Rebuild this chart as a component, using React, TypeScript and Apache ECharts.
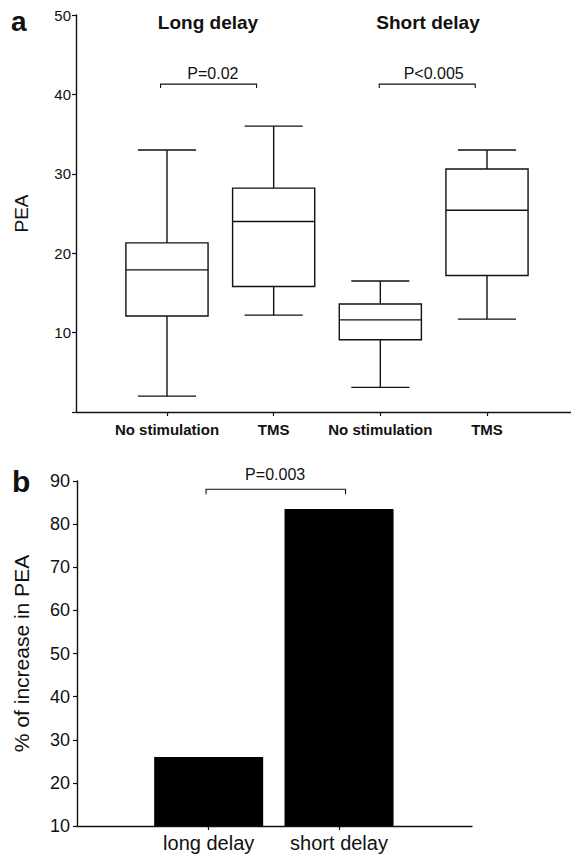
import React, { useEffect, useRef } from 'react';
import * as echarts from 'echarts';

const FONT = '"Liberation Sans", Arial, Helvetica, sans-serif';

// Panel a: box plots (PEA)
const boxCategories = ['No stimulation', 'TMS', 'No stimulation', 'TMS'];
const boxPositions = [1, 2, 3, 4];
const boxMin = [2.0, 12.2, 3.1, 11.7];
const boxQ1 = [12.1, 15.8, 9.1, 17.2];
const boxMedian = [17.9, 24.0, 11.6, 25.4];
const boxQ3 = [21.3, 28.2, 13.6, 30.6];
const boxMax = [33.0, 36.0, 16.5, 33.0];
const topYTicks = [0, 10, 20, 30, 40, 50];
const delayTitles = ['Long delay', 'Short delay'];

const bracketTopStart = [0.94, 2.99];
const bracketTopEnd = [1.84, 3.89];
const bracketTopLevel = [41.3, 41.3];
const bracketTopTextX = [1.43, 3.5];
const bracketTopText = ['P=0.02', 'P<0.005'];

// Panel b: bars (% of increase in PEA)
const barCategories = ['long delay', 'short delay'];
const barPositions = [0, 1];
const barValues = [26.0, 83.5];
const bottomYTicks = [10, 20, 30, 40, 50, 60, 70, 80, 90];

const bracketBottomStart = [-0.02];
const bracketBottomEnd = [1.05];
const bracketBottomLevel = [88.1];
const bracketBottomTextX = [0.51];
const bracketBottomText = ['P=0.003'];

const INK = '#111';

export default function App() {
  const ref = useRef<HTMLDivElement>(null);

  useEffect(() => {
    document.body.style.margin = '0';
    const chart = echarts.init(ref.current as HTMLDivElement, null, { renderer: 'svg' });

    const boxData = boxPositions.map((p, i) => [p, boxMin[i], boxQ1[i], boxMedian[i], boxQ3[i], boxMax[i]]);
    const barData = barPositions.map((p, i) => [p, barValues[i]]);
    const topBrackets = bracketTopStart.map((s, i) => [s, bracketTopEnd[i], bracketTopLevel[i], bracketTopTextX[i]]);
    const bottomBrackets = bracketBottomStart.map((s, i) => [s, bracketBottomEnd[i], bracketBottomLevel[i], bracketBottomTextX[i]]);

    const lineStyle = { stroke: INK, lineWidth: 1.4, fill: null };

    const makeBracketRender = (texts: string[], fontSize: number, drop: number, textGap: number) =>
      (params: any, api: any) => {
        const y = api.value(2);
        const p1 = api.coord([api.value(0), y]);
        const p2 = api.coord([api.value(1), y]);
        const pt = api.coord([api.value(3), y]);
        return {
          type: 'group',
          children: [
            {
              type: 'polyline',
              shape: { points: [[p1[0], p1[1] + drop], [p1[0], p1[1]], [p2[0], p2[1]], [p2[0], p2[1] + drop]] },
              style: { stroke: INK, lineWidth: 1.1, fill: null },
            },
            {
              type: 'text',
              x: pt[0],
              y: pt[1] - textGap,
              style: {
                text: texts[params.dataIndex],
                fill: INK,
                fontSize,
                fontFamily: FONT,
                textAlign: 'center',
                textVerticalAlign: 'middle',
                align: 'center',
                verticalAlign: 'middle',
              },
            },
          ],
        };
      };

    const option: any = {
      animation: false,
      backgroundColor: '#fff',
      textStyle: { fontFamily: FONT },
      grid: [
        { left: 76, top: 15, width: 495, height: 397 },
        { left: 77, top: 481, width: 395, height: 345 },
      ],
      xAxis: [
        {
          type: 'value',
          gridIndex: 0,
          min: 0.147,
          max: 4.7875,
          splitLine: { show: false },
          axisLine: { onZero: false, lineStyle: { color: INK, width: 1.4 } },
          axisTick: { show: true, customValues: boxPositions, length: 4, lineStyle: { color: INK, width: 1.2 } },
          axisLabel: {
            customValues: boxPositions,
            formatter: (v: number) => boxCategories[boxPositions.indexOf(Math.round(v))] ?? '',
            fontSize: 15,
            fontWeight: 'bold',
            color: INK,
            fontFamily: FONT,
            margin: 10,
          },
        },
        {
          type: 'value',
          gridIndex: 1,
          min: -1.01,
          max: 2.02,
          splitLine: { show: false },
          axisLine: { onZero: false, lineStyle: { color: INK, width: 1.4 } },
          axisTick: { show: true, customValues: barPositions, length: 4, lineStyle: { color: INK, width: 1.2 } },
          axisLabel: {
            customValues: barPositions,
            formatter: (v: number) => barCategories[barPositions.indexOf(Math.round(v))] ?? '',
            fontSize: 20,
            color: INK,
            fontFamily: FONT,
            margin: 7,
          },
        },
      ],
      yAxis: [
        {
          type: 'value',
          gridIndex: 0,
          min: topYTicks[0],
          max: topYTicks[topYTicks.length - 1],
          interval: 10,
          name: 'PEA',
          nameLocation: 'middle',
          nameGap: 45,
          nameTextStyle: { fontSize: 19, color: INK, fontFamily: FONT },
          splitLine: { show: false },
          axisLine: { show: true, onZero: false, lineStyle: { color: INK, width: 1.4 } },
          axisTick: { show: true, length: 4, lineStyle: { color: INK, width: 1.2 } },
          axisLabel: {
            formatter: (v: number) => (v === 0 ? '' : String(v)),
            fontSize: 15,
            color: INK,
            fontFamily: FONT,
            margin: 5,
          },
        },
        {
          type: 'value',
          gridIndex: 1,
          min: bottomYTicks[0],
          max: bottomYTicks[bottomYTicks.length - 1],
          interval: 10,
          name: '% of increase in PEA',
          nameLocation: 'middle',
          nameGap: 45,
          nameTextStyle: { fontSize: 21, color: INK, fontFamily: FONT },
          splitLine: { show: false },
          axisLine: { show: true, onZero: false, lineStyle: { color: INK, width: 1.4 } },
          axisTick: { show: true, length: 4, lineStyle: { color: INK, width: 1.2 } },
          axisLabel: {
            fontSize: 18,
            color: INK,
            fontFamily: FONT,
            margin: 7,
          },
        },
      ],
      graphic: [
        { type: 'text', x: 11, y: 21, style: { text: 'a', font: `bold 28px ${FONT}`, fill: INK, textVerticalAlign: 'middle' } },
        { type: 'text', x: 12, y: 481, style: { text: 'b', font: `bold 30px ${FONT}`, fill: INK, textVerticalAlign: 'middle' } },
        { type: 'text', x: 208, y: 22, style: { text: delayTitles[0], font: `bold 19px ${FONT}`, fill: INK, textAlign: 'center', textVerticalAlign: 'middle' } },
        { type: 'text', x: 428, y: 22, style: { text: delayTitles[1], font: `bold 19px ${FONT}`, fill: INK, textAlign: 'center', textVerticalAlign: 'middle' } },
      ],
      series: [
        {
          type: 'custom',
          name: 'PEA boxes',
          xAxisIndex: 0,
          yAxisIndex: 0,
          data: boxData,
          encode: { x: 0, y: [1, 2, 3, 4, 5] },
          renderItem: (params: any, api: any) => {
            const x = api.value(0);
            const cMin = api.coord([x, api.value(1)]);
            const cQ1 = api.coord([x, api.value(2)]);
            const cMed = api.coord([x, api.value(3)]);
            const cQ3 = api.coord([x, api.value(4)]);
            const cMax = api.coord([x, api.value(5)]);
            const cx = cMin[0];
            const bw = api.size([0.77, 0])[0];
            const cw = api.size([0.545, 0])[0];
            return {
              type: 'group',
              children: [
                { type: 'line', shape: { x1: cx, y1: cQ1[1], x2: cx, y2: cMin[1] }, style: lineStyle },
                { type: 'line', shape: { x1: cx - cw / 2, y1: cMin[1], x2: cx + cw / 2, y2: cMin[1] }, style: lineStyle },
                { type: 'line', shape: { x1: cx, y1: cQ3[1], x2: cx, y2: cMax[1] }, style: lineStyle },
                { type: 'line', shape: { x1: cx - cw / 2, y1: cMax[1], x2: cx + cw / 2, y2: cMax[1] }, style: lineStyle },
                {
                  type: 'rect',
                  shape: { x: cx - bw / 2, y: cQ3[1], width: bw, height: cQ1[1] - cQ3[1] },
                  style: { stroke: INK, lineWidth: 1.4, fill: '#fff' },
                },
                { type: 'line', shape: { x1: cx - bw / 2, y1: cMed[1], x2: cx + bw / 2, y2: cMed[1] }, style: lineStyle },
              ],
            };
          },
        },
        {
          type: 'custom',
          name: 'top brackets',
          xAxisIndex: 0,
          yAxisIndex: 0,
          data: topBrackets,
          encode: { x: [0, 1, 3], y: 2 },
          renderItem: makeBracketRender(bracketTopText, 16, 4, 11),
        },
        {
          type: 'bar',
          name: '% of increase in PEA',
          xAxisIndex: 1,
          yAxisIndex: 1,
          data: barData,
          barWidth: 109,
          itemStyle: { color: '#000' },
        },
        {
          type: 'custom',
          name: 'bottom bracket',
          xAxisIndex: 1,
          yAxisIndex: 1,
          data: bottomBrackets,
          encode: { x: [0, 1, 3], y: 2 },
          renderItem: makeBracketRender(bracketBottomText, 16, 5, 14.5),
        },
      ],
    };

    chart.setOption(option);
    return () => chart.dispose();
  }, []);

  return <div ref={ref} style={{ width: 571, height: 855 }} />;
}
